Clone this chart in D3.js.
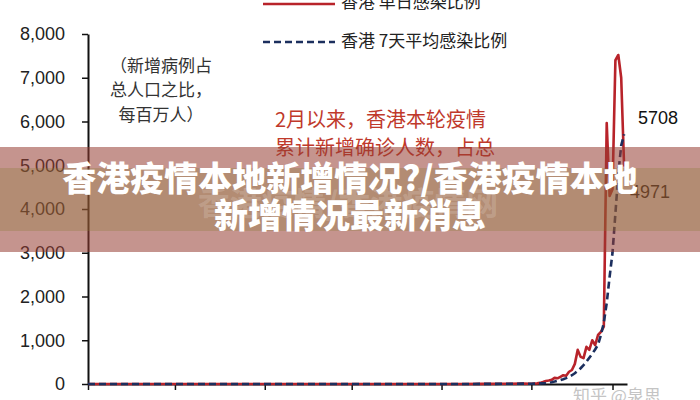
<!DOCTYPE html>
<html><head><meta charset="utf-8">
<script src="https://cdn.jsdelivr.net/npm/d3@7"></script>
<style>
html,body{margin:0;padding:0;background:#fff;}
svg{display:block;}
</style></head>
<body>
<svg id="c" width="700" height="400"></svg>
<script>
// ---- data ----
const dates = [
  "2021-09-01","2021-09-15","2021-10-01","2021-10-15","2021-11-01","2021-11-15",
  "2021-12-01","2021-12-15","2022-01-01","2022-01-08","2022-01-15","2022-01-22","2022-01-29",
  "2022-02-01","2022-02-02","2022-02-03","2022-02-04","2022-02-05","2022-02-06","2022-02-07",
  "2022-02-08","2022-02-09","2022-02-10","2022-02-11","2022-02-12","2022-02-13","2022-02-14",
  "2022-02-15","2022-02-16","2022-02-17","2022-02-18","2022-02-19","2022-02-20","2022-02-21",
  "2022-02-22","2022-02-23","2022-02-24","2022-02-25","2022-02-26","2022-02-27","2022-02-28",
  "2022-03-01","2022-03-02","2022-03-03","2022-03-04","2022-03-05"
];
const dailyPerMillion = [
  0,0,0,0,0,0,
  0,0,0,1,2,6,9,
  5,10,15,25,45,70,80,
  95,140,130,165,200,190,280,
  320,460,780,620,590,850,780,
  1000,890,1120,1190,1310,5966,4300,
  4450,7400,7520,7000,4971
];
const avg7PerMillion = [
  0,0,0,0,0,0,
  0,0,0,1,2,5,8,
  6,8,10,14,18,24,32,
  42,55,70,88,110,135,165,
  200,245,300,360,430,510,600,
  690,790,900,1120,1400,1850,2450,
  3000,3900,4800,5450,5708
];
const yTicks = [0,1000,2000,3000,4000,5000,6000,7000,8000];
const xDomain = ["2021-09-01","2022-03-06"];
const legendLabels = ["香港  单日感染比例","香港  7天平均感染比例"];
const unitLines = ["（新增病例占","总人口之比，","每百万人）"];
const noteLines = ["2月以来，香港本轮疫情","累计新增确诊人数，占总"];
const endLabels = ["5708","4971"];
const bannerLines = ["香港疫情本地新增情况?/香港疫情本地","新增情况最新消息"];

// ---- chart ----
const parse = d3.timeParse("%Y-%m-%d");
const svg = d3.select("#c");
const x = d3.scaleTime().domain(xDomain.map(parse)).range([88, 627]);
const y = d3.scaleLinear().domain([0, 8000]).range([384, 34]);

const numFont = "'Liberation Sans', Arial, sans-serif";
const cjkFont = "'Noto Sans CJK SC', 'Noto Sans', sans-serif";

// y axis
const ya = svg.append("g").attr("transform","translate(88,0)")
  .call(d3.axisLeft(y).tickValues(yTicks).tickSize(6).tickSizeOuter(0).tickPadding(17).tickFormat(d3.format(",")));
ya.select(".domain").attr("stroke","#111").attr("stroke-width",2);
ya.selectAll(".tick line").attr("stroke","#111").attr("stroke-width",1.5);
ya.selectAll(".tick text").attr("font-family",numFont).attr("font-size",18).attr("fill","#222");

// x axis
const xa = svg.append("g").attr("transform","translate(0,384)")
  .call(d3.axisBottom(x).ticks(d3.timeMonth.every(1)).tickSize(6).tickSizeOuter(0).tickFormat(""));
xa.select(".domain").attr("stroke","#111").attr("stroke-width",2);
xa.selectAll(".tick line").attr("stroke","#111").attr("stroke-width",1.5);

// lines
const pts = s => dates.map((d,i)=>({d:parse(d), v:s[i]}));
const line = d3.line().x(p=>x(p.d)).y(p=>y(p.v));
svg.append("path").attr("d", line(pts(dailyPerMillion)))
  .attr("fill","none").attr("stroke","#b8232a").attr("stroke-width",2.6).attr("stroke-linejoin","round");
svg.append("path").attr("d", line(pts(avg7PerMillion)))
  .attr("fill","none").attr("stroke","#1c2f5e").attr("stroke-width",2.6).attr("stroke-dasharray","7,4");

// end labels
svg.append("text").attr("x",638).attr("y",119).attr("dominant-baseline","middle")
  .attr("font-family",numFont).attr("font-size",18).attr("fill","#111").text(endLabels[0]);
svg.append("text").attr("x",630).attr("y",193).attr("dominant-baseline","middle")
  .attr("font-family",numFont).attr("font-size",18).attr("fill","#111").text(endLabels[1]);

// legend
svg.append("line").attr("x1",263).attr("x2",335).attr("y1",4).attr("y2",4)
  .attr("stroke","#b8232a").attr("stroke-width",2.6);
svg.append("line").attr("x1",263).attr("x2",335).attr("y1",42).attr("y2",42)
  .attr("stroke","#1c2f5e").attr("stroke-width",2.6).attr("stroke-dasharray","7,4");
svg.append("text").attr("x",341).attr("y",3).attr("dominant-baseline","middle")
  .attr("font-family",cjkFont).attr("font-size",17).attr("fill","#222").text(legendLabels[0]);
svg.append("text").attr("x",341).attr("y",42).attr("dominant-baseline","middle")
  .attr("font-family",cjkFont).attr("font-size",17).attr("fill","#222").text(legendLabels[1]);

// top unit (cut off)
svg.append("text").attr("x",72).attr("y",-8).attr("text-anchor","middle").attr("dominant-baseline","middle")
  .attr("font-family",cjkFont).attr("font-size",17).attr("fill","#333").text("（ 例 ）");

// unit annotation
unitLines.forEach((t,i)=>{
  svg.append("text").attr("x",161).attr("y",67+i*24.5).attr("text-anchor","middle").attr("dominant-baseline","middle")
    .attr("font-family",cjkFont).attr("font-size",17).attr("fill","#333").text(t);
});
// red note
noteLines.forEach((t,i)=>{
  svg.append("text").attr("x",275).attr("y",122+i*28).attr("dominant-baseline","middle")
    .attr("font-family",cjkFont).attr("font-size",20).attr("fill","#c0392b").text(t);
});

// watermark bottom right
svg.append("text").attr("x",573).attr("y",397).attr("dominant-baseline","middle")
  .attr("font-family",cjkFont).attr("font-size",17).attr("fill","#c4c4c4").text("知乎 @泉思");

// banner overlay
svg.append("rect").attr("x",0).attr("y",147).attr("width",700).attr("height",105)
  .attr("fill","rgb(150,60,50)").attr("fill-opacity",0.55);
svg.append("rect").attr("x",0).attr("y",168).attr("width",700).attr("height",63)
  .attr("fill","rgb(140,121,52)").attr("fill-opacity",0.3);
svg.append("text").attr("x",348).attr("y",206).attr("text-anchor","middle").attr("dominant-baseline","middle")
  .attr("font-family",cjkFont).attr("font-size",32).attr("font-weight",700).attr("fill","#fff").attr("fill-opacity",0.18)
  .text("香港疫情/香港疫情网");
bannerLines.forEach((t,i)=>{
  svg.append("text").attr("x",350).attr("y",182+i*37).attr("text-anchor","middle").attr("dominant-baseline","middle")
    .attr("font-family",cjkFont).attr("font-size",34).attr("font-weight",900).attr("fill","#fff").text(t);
});
</script>
</body></html>
